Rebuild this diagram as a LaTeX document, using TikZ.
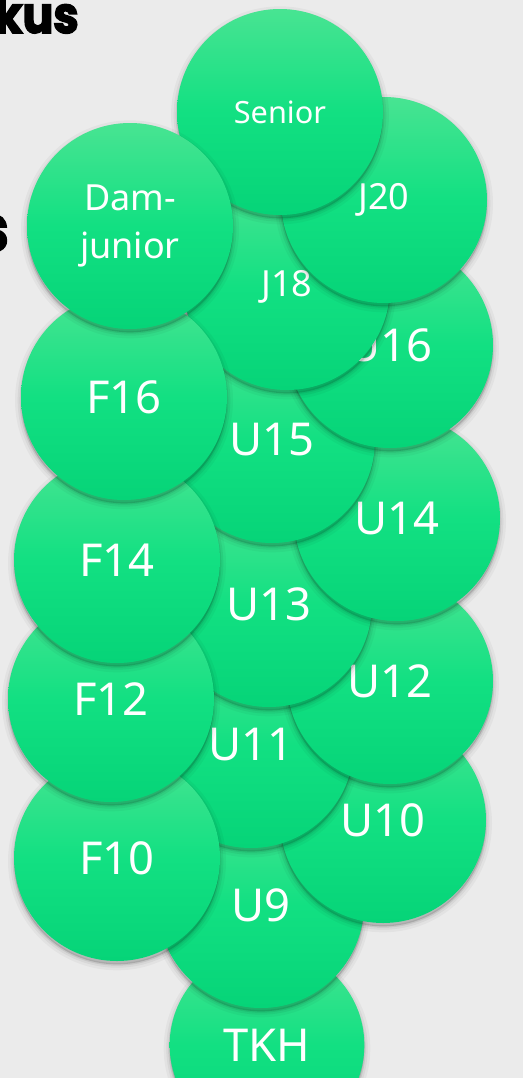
\documentclass[tikz,border=0pt]{standalone}
\usepackage{fontspec}
\setmainfont{Noto Sans}
\newfontfamily\rubrikfont{Poppins}[BoldFeatures={FakeBold=3}, FakeStretch=0.9]
\usepackage{tikz}
\usetikzlibrary{positioning}
\definecolor{gronTopp}{RGB}{72,228,146}
\definecolor{gronMitt}{RGB}{18,224,130}
\definecolor{gronBotten}{RGB}{6,212,120}
\definecolor{bakgrund}{RGB}{235,235,235}
\tikzset{
  bub/skugga/.style={
    preaction={fill=black, fill opacity=0.14,
      transform canvas={yshift=-2.5pt}},
    preaction={draw=black, draw opacity=0.07, line width=2pt,
      transform canvas={yshift=-2.5pt}},
    preaction={draw=black, draw opacity=0.05, line width=5pt,
      transform canvas={yshift=-2.5pt}},
    preaction={draw=black, draw opacity=0.035, line width=9pt,
      transform canvas={yshift=-2.5pt}}},
  bub/cirkel/.style={circle, bub/skugga, minimum size=154.5pt,
    inner sep=0pt, top color=gronTopp, bottom color=gronBotten,
    middle color=gronMitt, text=white, align=center,
    font=\fontsize{34}{36}\selectfont},
  bub/mellan/.style={bub/cirkel, font=\fontsize{27}{36}\selectfont},
  bub/liten/.style={bub/cirkel, font=\fontsize{23}{28}\selectfont},
  bub/rubrik/.style={inner sep=0pt, text=black, font=\rubrikfont\bfseries}
}

\begin{document}
\begin{tikzpicture}[x=0.75pt, y=-0.75pt]
  % Bakgrund och ram
  \fill[bakgrund] (0,0) rectangle (523,1078);
  \useasboundingbox (0,0) rectangle (523,1078);
  \clip (0,0) rectangle (523,1078);

  % Avklippta rubriker bakom
  \node[bub/rubrik, anchor=base east, font=\rubrikfont\bfseries\fontsize{38}{40}\selectfont]
        at (79, 33)  (rub1) {kus};
  \node[bub/rubrik, anchor=base east, font=\rubrikfont\bfseries\fontsize{48}{50}\selectfont]
        at (9, 251)  (rub2) {s};

  % Mittkolumn och hoegerkolumn, nerifraan och upp
  \node[bub/cirkel, minimum size=146pt] at (267, 1045) (tkh) {TKH};
  \node[bub/cirkel] at (261, 905) (u9)  {U9};
  \node[bub/cirkel] at (383, 820) (u10) {U10};
  \node[bub/cirkel] at (251, 745) (u11) {U11};
  \node[bub/cirkel] at (390, 681) (u12) {U12};
  \node[bub/cirkel] at (269, 604) (u13) {U13};
  \node[bub/cirkel] at (397, 518) (u14) {U14};
  \node[bub/cirkel] at (272, 440) (u15) {U15};
  \node[bub/cirkel] at (390, 345) (u16) {U16};
  \node[bub/mellan] at (287, 287) (j18) {J18};
  \node[bub/mellan] at (384, 200) (j20) {J20};
  \node[bub/liten]  at (280, 112) (senior) {Senior};

  % Vaensterkolumn (flickor), ligger oeverst
  \node[bub/cirkel] at (117, 858) (f10) {F10};
  \node[bub/cirkel] at (111, 699) (f12) {F12};
  \node[bub/cirkel] at (117, 560) (f14) {F14};
  \node[bub/cirkel] at (124, 397) (f16) {F16};
  \node[bub/mellan] at (130, 226) (damjr) {Dam-\\junior};
\end{tikzpicture}
\end{document}
